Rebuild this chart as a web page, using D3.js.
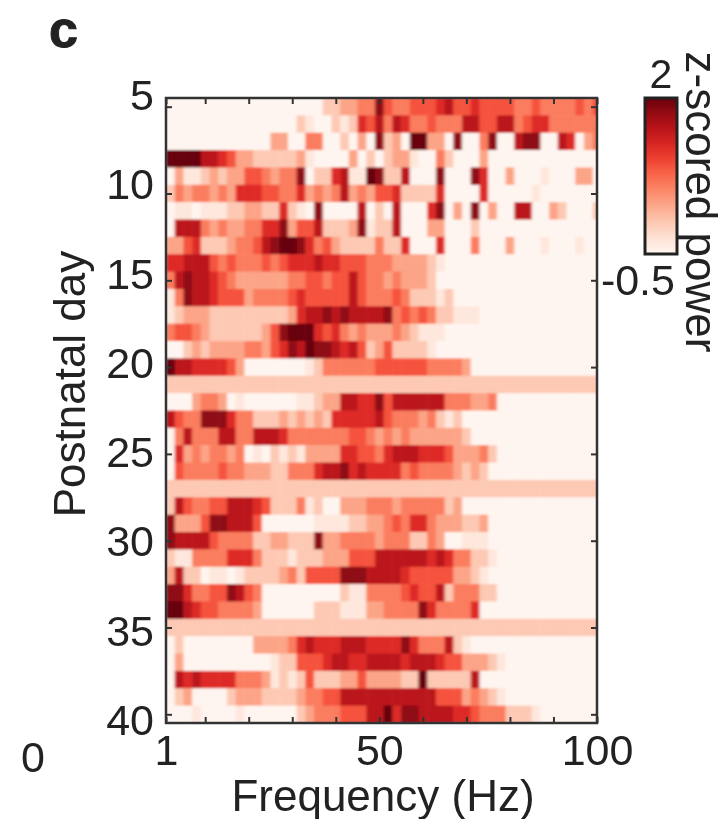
<!DOCTYPE html>
<html>
<head>
<meta charset="utf-8">
<script src="https://cdn.jsdelivr.net/npm/d3@7"></script>
<style>
  html, body { margin: 0; padding: 0; background: #fff; }
  svg { display: block; filter: blur(0.6px); }
  text { font-family: "Liberation Sans", Arial, sans-serif; fill: #222; }
</style>
</head>
<body>
<svg width="728" height="819"></svg>
<script>
// postnatal days, one row of the heatmap each
var days = [5,6,7,8,9,10,11,12,13,14,15,16,17,18,19,20,21,22,23,24,25,26,27,28,29,30,31,32,33,34,35,36,37,38,39,40];

// lower edge of each 2 Hz frequency bin
var freqBins = [1,3,5,7,9,11,13,15,17,19,21,23,25,27,29,31,33,35,37,39,41,43,45,47,49,51,53,55,57,59,61,63,65,67,69,71,73,75,77,79,81,83,85,87,89,91,93,95,97,99];

// z-scored power x 10. one line per day, 50 bins
var power = [
  [-5,-5,-5,-5,-5,-5,-5,-5,-5,-5, -5,-5,-5,-5,-5,-5,-5,-5,0,0, 3,3,6,6,18,9,6,6,9,9, 9,12,15,9,9,12,9,9,9,9, 6,6,9,6,6,6,6,9,6,9],
  [-5,-5,-5,-5,-5,-5,-5,-5,-5,-5, -5,-5,-5,-5,-5,0,-3,-5,-5,0, -3,0,12,9,15,6,15,12,6,6, 9,6,6,6,15,15,9,9,15,15, 6,9,12,12,6,6,6,6,6,6],
  [-5,-5,-5,-5,-5,-5,-5,-5,-5,-5, -5,-5,3,3,-5,-5,6,6,-5,-5, 0,-5,3,-5,18,0,3,-5,20,20, 3,3,-5,18,-5,-5,6,18,-5,-5, 15,18,18,-5,-5,15,12,-5,3,6],
  [20,20,20,20,15,15,12,9,3,3, 0,0,0,0,0,3,-3,-5,-5,-5, -5,3,-5,0,-5,0,3,3,-3,-5, -5,6,0,-5,-5,-5,3,-5,-5,-5, -5,-5,-5,-5,-5,-5,-5,-5,-5,-5],
  [-5,3,-3,-3,0,3,0,3,3,9, 9,6,3,6,6,18,-5,0,0,12, 15,-3,-3,20,18,0,0,15,-5,-5, -5,18,-5,-5,-5,18,12,-5,-5,3, -5,-5,-5,-3,-5,-5,-5,3,3,-5],
  [0,6,3,6,6,3,6,3,12,12, 12,9,9,6,6,12,3,6,3,6, 15,3,6,3,9,9,12,0,0,0, 0,12,-5,-5,-5,-5,12,-5,-5,-5, -5,-5,-3,-5,-5,-5,-5,-5,-5,-5],
  [-5,-3,-3,-5,-3,-3,-3,0,0,3, 3,0,0,12,0,-3,-5,18,-5,-5, -5,-5,15,-5,0,-5,15,-5,-5,-5, 12,18,-5,3,-5,18,-5,3,-5,-5, 15,15,-5,-5,3,0,-5,-5,-5,0],
  [-5,15,15,15,6,3,6,3,3,6, 6,12,12,18,3,9,9,15,0,0, 0,3,18,-3,0,0,15,-5,-5,-5, 3,3,-5,-5,-5,0,-5,-5,-5,-5, -5,-5,-5,-5,-5,-5,-5,-5,-5,-5],
  [3,3,9,12,0,0,0,3,6,6, 9,15,18,20,20,18,12,6,9,3, 0,0,0,0,6,0,0,12,-5,-5, -5,12,-5,-5,-5,6,-5,-5,-5,3, -5,-5,-5,-3,-5,-5,-5,-3,-5,-5],
  [12,12,15,15,15,9,6,9,6,6, 6,9,6,9,12,12,12,15,12,12, 9,9,9,6,6,6,3,3,3,3, 0,-3,-5,-5,-5,-5,-5,-5,-5,-5, -5,-5,-5,-5,-5,-5,-5,-5,-5,-5],
  [6,15,18,15,15,12,9,6,3,3, 3,3,3,3,6,6,9,9,6,9, 9,15,9,6,6,3,6,3,3,3, 0,-5,-5,-5,-5,-5,-5,-5,-5,-5, -5,-5,-5,-5,-5,-5,-5,-5,-5,-5],
  [-3,6,18,15,15,12,9,9,9,3, 6,6,6,6,9,12,9,9,9,9, 9,15,9,6,6,6,9,6,0,0, 0,-3,0,-5,-5,-5,-5,-5,-5,-5, -5,-5,-5,-5,-5,-5,-5,-5,-5,-5],
  [-3,0,3,3,3,0,0,0,0,0, 0,0,0,0,3,12,15,15,18,15, 18,15,15,15,15,18,6,9,6,9, 6,0,0,-3,-3,-3,-5,-5,-5,-5, -5,-5,-5,-5,-5,-5,-5,-5,-5,-5],
  [6,9,9,6,3,0,0,0,0,0, 0,3,9,18,20,20,20,12,9,12, 6,3,6,3,3,3,6,3,0,-3, -3,-3,-5,-5,-5,-5,-5,-5,-5,-5, -5,-5,-5,-5,-5,-5,-5,-5,-5,-5],
  [-5,-5,0,3,0,3,3,3,3,6, 6,3,9,12,18,15,20,18,18,15, 12,15,9,0,3,9,0,0,0,0, -3,-5,-5,-5,-5,-5,-5,-5,-5,-5, -5,-5,-5,-5,-5,-5,-5,-5,-5,-5],
  [20,15,15,12,12,12,12,9,3,-5, -5,-5,-5,-5,-5,-5,-3,0,6,6, 6,6,6,6,9,9,9,9,9,9, 6,6,6,6,3,-5,-5,-5,-5,-5, -5,-5,-5,-5,-5,-5,-5,-5,-5,-5],
  [0,0,0,0,0,0,0,0,0,0, 0,0,0,0,0,0,0,0,0,0, 0,0,0,0,0,0,0,0,0,0, 0,0,0,0,0,0,0,0,0,0, 0,0,0,0,0,0,0,0,0,0],
  [-5,-5,-5,3,6,6,3,-5,-3,-5, -5,-5,-5,-5,-5,-3,-3,0,3,3, 15,15,12,12,18,9,15,15,15,15, 15,15,6,6,6,3,3,6,-5,-5, -5,-5,-5,-5,-5,-5,-5,-5,-5,-5],
  [15,9,6,6,18,18,18,12,6,6, 0,0,0,3,0,3,0,3,0,12, 12,12,12,12,15,9,6,6,6,3, 6,0,-3,0,-5,-5,-5,-5,-5,-5, -5,-5,-5,-5,-5,-5,-5,-5,-5,-5],
  [-5,6,15,6,6,6,15,15,6,6, 15,15,15,12,6,6,6,6,6,6, 6,9,9,6,3,6,3,6,3,3, 3,3,3,3,0,-5,-5,-5,-5,-5, -5,-5,-5,-5,-5,-5,-5,-5,-5,-5],
  [-5,12,3,6,3,6,6,3,6,-5, -3,-5,0,-3,0,-3,3,3,3,3, 12,12,9,9,6,12,15,15,15,12, 12,12,9,3,3,3,6,0,-5,-5, -5,-5,-5,-5,-5,-5,-5,-5,-5,-5],
  [-5,9,6,6,6,6,9,6,6,3, 3,3,0,0,6,6,6,12,15,15, 18,12,15,12,12,12,12,6,9,6, 6,6,6,3,0,3,0,-5,-5,-5, -5,-5,-5,-5,-5,-5,-5,-5,-5,-5],
  [0,0,0,0,0,0,0,0,0,0, 0,0,0,0,0,0,0,0,0,0, 0,0,0,0,0,0,0,0,0,0, 0,0,0,0,0,0,0,0,0,0, 0,0,0,0,0,0,0,0,0,0],
  [0,15,9,6,6,9,9,15,15,15, 12,9,0,0,0,6,-3,0,-5,-5, 3,3,3,6,6,6,3,6,6,6, 6,6,0,3,-5,-5,-5,-5,-5,-5, -5,-5,-5,-5,-5,-5,-5,-5,-5,-5],
  [18,3,3,3,9,18,18,15,15,15, 9,-5,-5,-5,-5,-5,-5,-3,-3,-3, -3,0,0,3,3,6,9,6,12,12, 6,3,3,3,0,0,3,-5,-5,-5, -5,-5,-5,-5,-5,-5,-5,-5,-5,-5],
  [18,15,15,15,15,9,6,6,6,6, 0,0,3,3,0,0,0,18,3,3, 6,6,6,6,3,6,6,6,0,0, 6,3,-5,-5,-3,-3,-3,-5,-5,-5, -5,-5,-5,-5,-5,-5,-5,-5,-5,-5],
  [0,-3,-3,6,6,6,6,12,12,12, 6,0,0,0,-3,0,0,0,3,3, 3,9,9,9,15,15,15,15,15,15, 12,15,12,6,6,0,0,-3,-5,-5, -5,-5,-5,-5,-5,-5,-5,-5,-5,-5],
  [3,15,0,0,-5,-3,-3,-5,-3,0, 0,0,0,3,6,0,9,9,9,9, 18,18,18,15,15,15,15,12,9,9, 9,9,9,3,3,0,-3,-5,-5,-5, -5,-5,-5,-5,-5,-5,-5,-5,-5,-5],
  [18,18,12,6,6,9,9,18,15,9, 6,-5,-5,-5,-5,-5,-5,-5,-5,-5, 0,-3,-3,6,6,6,6,9,12,9, 9,15,0,6,6,6,0,0,-5,-5, -5,-5,-5,-5,-5,-5,-5,-5,-5,-5],
  [20,20,15,12,9,9,6,6,6,6, 3,-5,-5,-5,-5,-5,-5,0,0,0, -3,-3,-3,3,3,6,6,6,6,18, 12,6,6,6,6,12,-5,-5,-5,-5, -5,-5,-5,-5,-5,-5,-5,-5,-5,-5],
  [0,0,0,0,0,0,0,0,0,0, 0,0,0,0,0,0,0,0,0,0, 0,0,0,0,0,0,0,0,0,0, 0,0,0,0,0,0,0,0,0,0, 0,0,0,0,0,0,0,0,0,0],
  [-5,0,-5,-5,-5,-5,-5,-5,-5,-5, 3,3,3,3,6,12,15,12,12,12, 15,15,15,12,12,12,12,18,12,6, 6,6,15,0,-3,-5,-5,-5,-5,-5, -5,-5,-5,-5,-5,-5,-5,-5,-5,-5],
  [-5,3,-5,-5,-5,-5,-5,-5,-5,-5, -5,-5,-3,0,0,9,9,9,12,15, 15,12,12,15,15,15,15,12,15,15, 15,12,9,9,3,3,3,0,-3,-5, -5,-5,-5,-5,-5,-5,-5,-5,-5,-5],
  [-5,15,12,15,12,12,12,12,6,6, 6,3,-3,0,-3,0,9,0,0,0, 3,3,9,3,3,3,3,0,0,20, 0,0,0,0,0,15,-5,-5,-5,-5, -5,-5,-5,-5,-5,-5,-5,-5,-5,-5],
  [-5,0,3,-5,-5,-5,-5,0,3,3, 3,0,0,0,0,3,6,6,9,9, 15,15,15,15,15,15,15,15,15,15, 15,9,9,9,3,6,3,0,-3,-5, -5,-5,-5,-5,-5,-5,-5,-5,-5,-5],
  [-5,-5,-5,-3,-5,-5,-5,-5,-3,-5, -5,-5,-5,-5,-5,0,3,6,6,6, 9,9,9,15,15,20,12,18,18,15, 15,15,15,12,12,9,6,6,6,0, 0,0,-3,-5,-5,-5,-5,-5,-5,-5]
];

var xTicks = [1,10,20,30,40,50,60,70,80,90,100];
var xLabels = [1,50,100];
var yTicks = [5,10,15,20,25,30,35,40];
var legendTicks = [-0.5,2];

var svg = d3.select("svg"),
    margin = {top: 98, left: 166, right: 131, bottom: 96},
    width = +svg.attr("width") - margin.left - margin.right,
    height = +svg.attr("height") - margin.top - margin.bottom,
    g = svg.append("g").attr("transform", "translate(" + margin.left + "," + margin.top + ")");

var x = d3.scaleLinear().domain([1, 100]).range([0, width]);
var y = d3.scaleLinear().domain([4.5, 40.5]).range([0, height]);
var color = d3.scaleSequential(d3.interpolateReds).domain([-0.5, 2]);

// the day labels sit a little off their ticks in the original
var yLabel = d3.scaleLinear().domain([5, 40]).range([110, 735]);

var defs = svg.append("defs");

defs.append("clipPath").attr("id", "plot")
  .append("rect").attr("width", width).attr("height", height);

// cells are smeared along frequency more than along days
defs.append("filter").attr("id", "smear")
    .attr("x", "-2%").attr("y", "-2%")
    .attr("width", "104%").attr("height", "104%")
  .append("feGaussianBlur")
    .attr("stdDeviation", "1.8 0.9");

// heatmap cells
g.append("g")
    .attr("clip-path", "url(#plot)")
  .append("g")
    .attr("filter", "url(#smear)")
  .selectAll("g")
  .data(power)
  .enter().append("g")
    .attr("transform", function(d, i) { return "translate(0," + y(days[i] - 0.5) + ")"; })
  .selectAll("rect")
  .data(function(d) { return d; })
  .enter().append("rect")
    .attr("x", function(d, i) { return x(freqBins[i]); })
    .attr("width", x(3) - x(1) + 0.5)
    .attr("height", y(1) - y(0) + 0.5)
    .attr("fill", function(d) { return color(d / 10); });

// box round the plot
g.append("rect")
    .attr("width", width)
    .attr("height", height)
    .attr("fill", "none")
    .attr("stroke", "#333")
    .attr("stroke-width", 2.5);

function styleAxis(sel, size) {
  sel.select(".domain").remove();
  sel.selectAll("line").attr("stroke", "#333").attr("stroke-width", 2);
  sel.selectAll("text").attr("font-size", size).attr("fill", "#222")
     .attr("font-family", '"Liberation Sans", Arial, sans-serif');
}

// bottom and left axes, ticks point inward
g.append("g")
    .attr("transform", "translate(0," + height + ")")
    .call(d3.axisBottom(x).tickValues(xTicks).tickSize(-6).tickPadding(11)
      .tickFormat(function(d) { return xLabels.indexOf(d) < 0 ? "" : d; }))
    .call(styleAxis, 43);

g.append("g")
    .call(d3.axisLeft(y).tickValues(yTicks).tickSize(-6).tickFormat(""))
    .call(styleAxis, 43);

// top and right ticks, no labels
g.append("g")
    .call(d3.axisTop(x).tickValues(xTicks).tickSize(-6).tickFormat(""))
    .call(styleAxis, 43);

g.append("g")
    .attr("transform", "translate(" + width + ",0)")
    .call(d3.axisRight(y).tickValues(yTicks).tickSize(-6).tickFormat(""))
    .call(styleAxis, 43);

// day labels
svg.append("g")
  .selectAll("text")
  .data(yTicks)
  .enter().append("text")
    .attr("x", 154)
    .attr("y", function(d) { return yLabel(d); })
    .attr("text-anchor", "end")
    .attr("font-size", 43)
    .text(function(d) { return d; });

// the lone 0 left of the frequency axis
svg.append("text")
    .attr("x", 33)
    .attr("y", 772)
    .attr("text-anchor", "middle")
    .attr("font-size", 43)
    .text("0");

svg.append("text")
    .attr("x", 383)
    .attr("y", 811)
    .attr("text-anchor", "middle")
    .attr("font-size", 44)
    .text("Frequency (Hz)");

svg.append("text")
    .attr("transform", "translate(85,384) rotate(-90)")
    .attr("text-anchor", "middle")
    .attr("font-size", 44)
    .text("Postnatal day");

// panel letter
svg.append("text")
    .attr("x", 49)
    .attr("y", 47)
    .attr("font-size", 52)
    .attr("font-weight", "bold")
    .attr("stroke", "#222")
    .attr("stroke-width", 1)
    .text("c");

// colour bar
var barX = 645, barW = 32, barTop = 98, barBottom = 254;
var legendY = d3.scaleLinear().domain([2, -0.5]).range([barTop, barBottom]);

var grad = defs.append("linearGradient")
    .attr("id", "bar")
    .attr("x1", 0).attr("y1", 1)
    .attr("x2", 0).attr("y2", 0);

grad.selectAll("stop")
  .data(d3.range(0, 1.01, 0.1))
  .enter().append("stop")
    .attr("offset", function(d) { return d; })
    .attr("stop-color", function(d) { return d3.interpolateReds(d); });

svg.append("rect")
    .attr("x", barX)
    .attr("y", legendY(2))
    .attr("width", barW)
    .attr("height", legendY(-0.5) - legendY(2))
    .attr("fill", "url(#bar)")
    .attr("stroke", "#222")
    .attr("stroke-width", 3);

svg.append("text")
    .attr("x", 661)
    .attr("y", 88)
    .attr("text-anchor", "middle")
    .attr("font-size", 41)
    .text(legendTicks[1]);

svg.append("text")
    .attr("x", 675)
    .attr("y", 295)
    .attr("text-anchor", "end")
    .attr("font-size", 43)
    .text(legendTicks[0]);

svg.append("text")
    .attr("transform", "translate(686,202) rotate(90)")
    .attr("text-anchor", "middle")
    .attr("font-size", 44)
    .text("z-scored power");
</script>
</body>
</html>
